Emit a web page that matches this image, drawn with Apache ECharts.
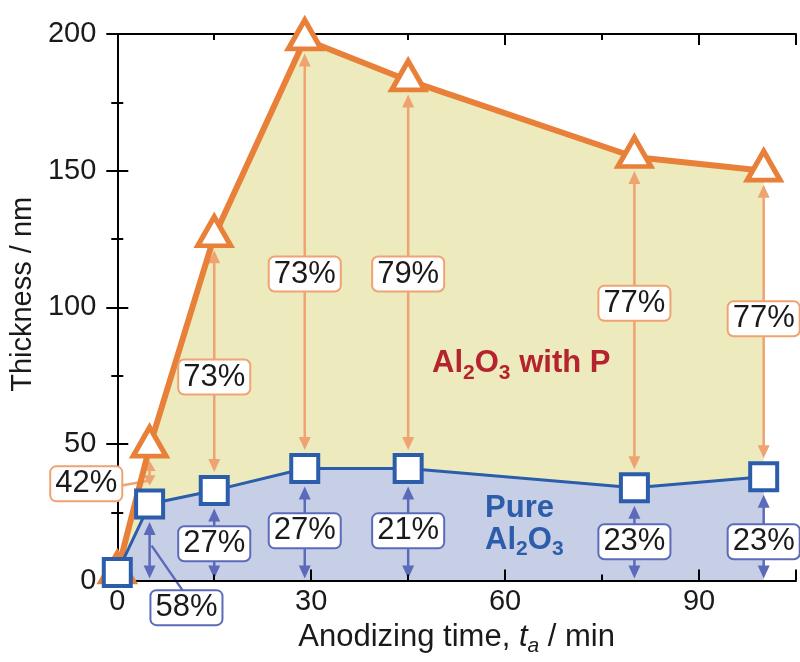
<!DOCTYPE html>
<html><head><meta charset="utf-8">
<script src="https://cdn.jsdelivr.net/npm/echarts@6/dist/echarts.min.js"></script>
<style>html,body{margin:0;padding:0;background:#fff}#c{width:800px;height:662px}</style>
</head><body><div id="c"></div>
<script>
// ---- data ----
const times = [0, 5, 15, 29, 45, 80, 100];
const withP = [3, 49, 126, 198, 183, 155, 150];
const pure = [3, 28, 33, 41, 41, 34, 38];
const ratioWithP = ['', '42%', '73%', '73%', '79%', '77%', '77%'];
const ratioPure = ['', '58%', '27%', '27%', '21%', '23%', '23%'];
const xTickLabels = [0, 30, 60, 90];
const yTickLabels = [0, 50, 100, 150, 200];
// ---- annotation layout (axis units) ----
const labelAtWithP = [null, [-4.8, 35.4], [15, 74.5], [29, 112.2], [45, 112.2], [80, 101.5], [100, 95.8]];
const labelAtPure = [null, [10.7, -9.9], [15, 13.5], [29, 18.2], [45, 18.2], [80, 14.2], [100, 14.2]];
const leaderWithP = { from: 1, to: [5, 36.5] };
const leaderPure = { from: 1, to: [5, 12.8] };
const seriesTexts = [
  { text: '{b|Al}{s|2}{b|O}{s|3}{b| with P}', at: [48.7, 79.4], color: '#B4232E' },
  { text: '{b|Pure}', at: [56.9, 26.5], color: '#2D5DAA' },
  { text: '{b|Al}{s|2}{b|O}{s|3}', at: [56.9, 14.8], color: '#2D5DAA' }
];

const FONT = '"Liberation Sans", Arial, sans-serif';
const C_OR = '#E8803A', C_OR_L = '#EFA372', C_YEL = '#EDEBBD';
const C_BL = '#2B5DAB', C_BL_L = '#5C6BB9', C_BLF = '#C7CFE7';
const TXT = '#1a1a1a';

function arrow(x, yTop, yBot, color) {
  const len = yBot - yTop;
  const h = Math.min(13, len / 2.4), w = 6;
  return [
    { type: 'line', shape: { x1: x, y1: yTop + h * 0.8, x2: x, y2: yBot - h * 0.8 }, style: { stroke: color, lineWidth: 2.5 } },
    { type: 'polygon', shape: { points: [[x, yTop], [x - w, yTop + h], [x + w, yTop + h]] }, style: { fill: color } },
    { type: 'polygon', shape: { points: [[x, yBot], [x - w, yBot - h], [x + w, yBot - h]] }, style: { fill: color } }
  ];
}

const chart = echarts.init(document.getElementById('c'), null, { renderer: 'canvas' });
const pairs = (ys) => times.map((t, i) => [t, ys[i]]);
const axisLine = { show: true, lineStyle: { color: '#000', width: 2 } };
const tickStyle = { color: '#000', width: 2 };

const option = {
  animation: false,
  grid: { left: 117, top: 34, right: 4, bottom: 80 },
  xAxis: [
    { type: 'value', min: 0, max: 105, interval: 15, position: 'bottom', z: 3,
      axisLine, splitLine: { show: false },
      axisTick: { inside: true, length: 6, lineStyle: tickStyle },
      axisLabel: { margin: 7, fontSize: 29, fontFamily: FONT, color: TXT,
        formatter: v => xTickLabels.includes(v) ? String(v) : '' },
      name: '{n|Anodizing time, }{i|t}{s|a}{n| / min}', nameLocation: 'middle', nameGap: 35,
      nameTextStyle: { fontSize: 31, fontFamily: FONT, color: TXT,
        rich: { n: { fontSize: 31, fontFamily: FONT, color: TXT, lineHeight: 40 },
                i: { fontSize: 31, fontFamily: FONT, color: TXT, fontStyle: 'italic', lineHeight: 40 },
                s: { fontSize: 21, fontFamily: FONT, color: TXT, fontStyle: 'italic', lineHeight: 20, verticalAlign: 'bottom' } } } },
    { type: 'value', min: 0, max: 105, interval: 30, position: 'bottom', z: 3,
      axisLine: { show: false }, splitLine: { show: false }, axisLabel: { show: false },
      axisTick: { inside: true, length: 11, lineStyle: tickStyle } },
    { type: 'value', min: 0, max: 105, interval: 15, position: 'top', z: 3,
      axisLine, splitLine: { show: false }, axisLabel: { show: false },
      axisTick: { inside: true, length: 6, lineStyle: tickStyle } },
    { type: 'value', min: 0, max: 105, interval: 30, position: 'top', z: 3,
      axisLine: { show: false }, splitLine: { show: false }, axisLabel: { show: false },
      axisTick: { inside: true, length: 11, lineStyle: tickStyle } }
  ],
  yAxis: [
    { type: 'value', min: 0, max: 200, interval: 50, position: 'left', z: 3,
      axisLine, splitLine: { show: false },
      axisTick: { inside: true, length: 11, lineStyle: tickStyle },
      minorTick: { show: true, splitNumber: 2, length: 6, lineStyle: tickStyle },
      axisLabel: { margin: 21, fontSize: 29, fontFamily: FONT, color: TXT,
        formatter: v => yTickLabels.includes(v) ? String(v) : '' },
      name: 'Thickness / nm', nameLocation: 'middle', nameRotate: 90, nameGap: 76,
      nameTextStyle: { fontSize: 29, fontFamily: FONT, color: TXT, padding: [0, 0, 0, 26] } },
    { type: 'value', min: 0, max: 200, interval: 50, position: 'right', z: 3,
      axisLine, splitLine: { show: false }, axisLabel: { show: false },
      axisTick: { inside: true, length: 11, lineStyle: tickStyle },
      minorTick: { show: true, splitNumber: 2, length: 6, lineStyle: tickStyle } }
  ],
  series: [
    { type: 'line', data: pairs(withP), symbol: 'none', silent: true, z: 1,
      lineStyle: { width: 0, opacity: 0 }, areaStyle: { color: C_YEL, opacity: 1 } },
    { type: 'line', data: pairs(pure), symbol: 'none', silent: true, z: 2,
      lineStyle: { width: 0, opacity: 0 }, areaStyle: { color: C_BLF, opacity: 1 } },
    { type: 'custom', z: 3, clip: false, silent: true,
      data: times.map((t, i) => [t, pure[i], withP[i]]),
      renderItem(params, api) {
        const i = params.dataIndex;
        if (i === 0) return null;
        const t = api.value(0), b = api.value(1), o = api.value(2);
        const pb = api.coord([t, b]), po = api.coord([t, o]), p0 = api.coord([t, 0]);
        const x = pb[0];
        const children = [];
        children.push(...arrow(x, po[1] + 14, pb[1] - 18.5, C_OR_L));
        children.push(...arrow(x, pb[1] + 18, p0[1] - 2, C_BL_L));
        if (i === leaderWithP.from) {
          const s = api.coord(labelAtWithP[i]), e = api.coord(leaderWithP.to);
          children.push({ type: 'line', shape: { x1: s[0] + 34, y1: s[1] + 2, x2: e[0] - 1, y2: e[1] }, style: { stroke: C_OR_L, lineWidth: 2.5 } });
        }
        if (i === leaderPure.from) {
          const s = api.coord(labelAtPure[i]), e = api.coord(leaderPure.to);
          children.push({ type: 'line', shape: { x1: s[0] - 3, y1: s[1] - 16, x2: e[0] + 2, y2: e[1] }, style: { stroke: C_BL_L, lineWidth: 2.5 } });
        }
        return { type: 'group', children };
      } },
    { type: 'line', data: pairs(withP), z: 4, symbol: 'triangle', symbolSize: [33, 29], symbolOffset: [0, -5],
      showAllSymbol: true, clip: false,
      lineStyle: { color: C_OR, width: 6 },
      itemStyle: { color: '#fff', borderColor: C_OR, borderWidth: 5 } },
    { type: 'line', data: pairs(pure), z: 5, symbol: 'rect', symbolSize: 27,
      showAllSymbol: true, clip: false,
      lineStyle: { color: C_BL, width: 3 },
      itemStyle: { color: '#fff', borderColor: C_BL, borderWidth: 4 } },
    { type: 'custom', z: 8, clip: false, silent: true,
      data: times.map((t, i) => [t]),
      renderItem(params, api) {
        const i = params.dataIndex;
        if (i === 0) return null;
        const mk = (pos, text, border) => {
          const p = api.coord(pos);
          return { type: 'text', x: p[0], y: p[1], style: {
            text, fontSize: 31, fontFamily: FONT, fill: TXT, align: 'center', verticalAlign: 'middle',
            backgroundColor: '#fff', borderColor: border, borderWidth: 2, borderRadius: 5, padding: [2, 4, 0, 4] } };
        };
        return { type: 'group', children: [
          mk(labelAtWithP[i], ratioWithP[i], C_OR_L),
          mk(labelAtPure[i], ratioPure[i], C_BL_L)
        ] };
      } },
    { type: 'custom', z: 7, clip: false, silent: true,
      data: seriesTexts.map(s => s.at),
      renderItem(params, api) {
        const s = seriesTexts[params.dataIndex];
        const p = api.coord([api.value(0), api.value(1)]);
        return { type: 'text', x: p[0], y: p[1], style: {
          text: s.text, align: 'left', verticalAlign: 'middle',
          rich: {
            b: { fontSize: 31, fontWeight: 'bold', fontFamily: FONT, fill: s.color, lineHeight: 40 },
            s: { fontSize: 21, fontWeight: 'bold', fontFamily: FONT, fill: s.color, lineHeight: 20, verticalAlign: 'bottom' }
          } } };
      } }
  ]
};
chart.setOption(option);
</script></body></html>
